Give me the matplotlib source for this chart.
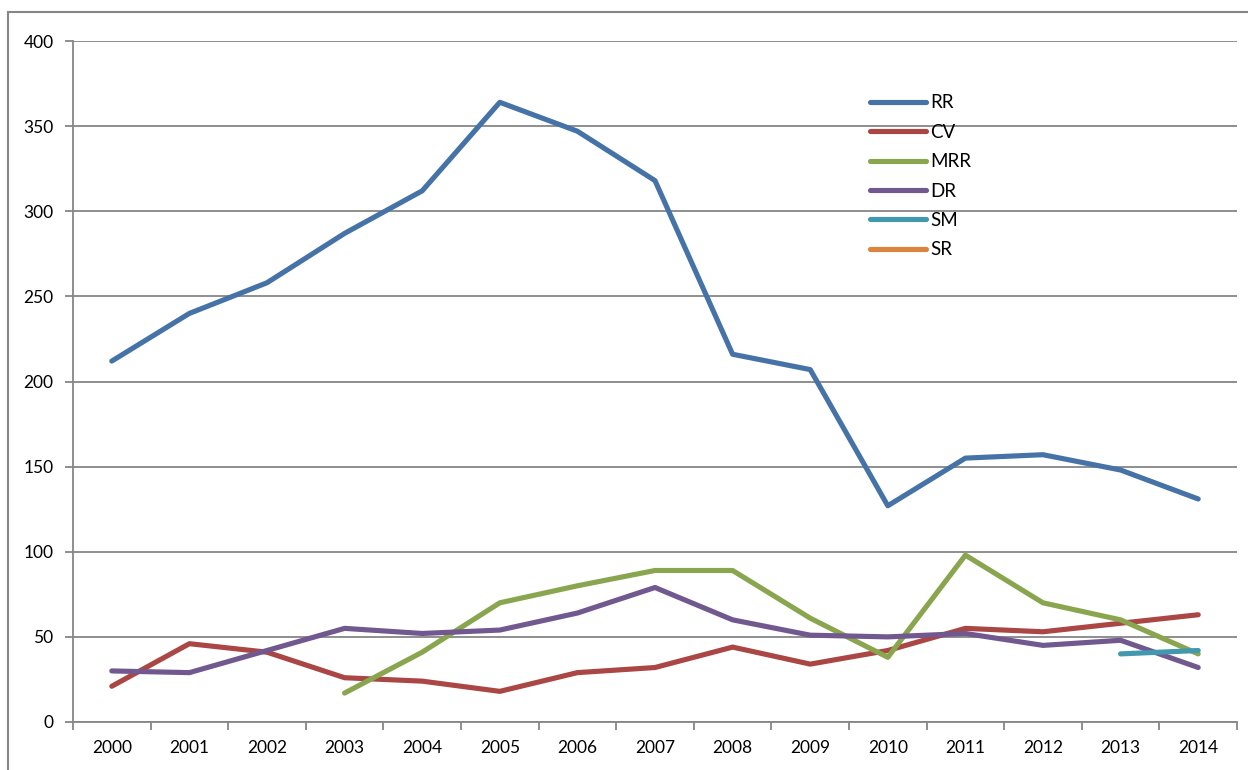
import matplotlib
matplotlib.use("Agg")
import matplotlib.pyplot as plt
from matplotlib.patches import Rectangle

years = list(range(2000, 2015))
rr = [212, 240, 258, 287, 312, 364, 347, 318, 216, 207, 127, 155, 157, 148, 131]
cv = [21, 46, 41, 26, 24, 18, 29, 32, 44, 34, 42, 55, 53, 58, 63]
mrr = [None, None, None, 17, 41, 70, 80, 89, 89, 61, 38, 98, 70, 60, 40]
dr = [30, 29, 42, 55, 52, 54, 64, 79, 60, 51, 50, 52, 45, 48, 32]
sm = [None] * 13 + [40, 42]
sr = [None] * 15

series = [("RR", rr, "#4572A7"), ("CV", cv, "#AA4643"), ("MRR", mrr, "#89A54E"),
          ("DR", dr, "#71588F"), ("SM", sm, "#4198AF"), ("SR", sr, "#DB843D")]

plt.rcParams['font.family'] = ['Lato', 'DejaVu Sans']
grid_col = "#868686"

fig = plt.figure(figsize=(12.48, 7.70), dpi=100)
ax = fig.add_axes([73 / 1248, 48 / 770, (1237 - 73) / 1248, (722 - 41) / 770])

x = list(range(len(years)))
for name, vals, col in series:
    xs = [i for i, v in zip(x, vals) if v is not None]
    ys = [v for v in vals if v is not None]
    ax.plot(xs, ys, color=col, lw=3.7, solid_capstyle="round",
            solid_joinstyle="round", label=name)

ax.set_xlim(-0.5, len(years) - 0.5)
ax.set_ylim(0, 400)
ax.set_yticks(range(0, 401, 50))
ax.yaxis.grid(True, color=grid_col, lw=1.3)
ax.set_axisbelow(True)

ax.set_xticks(x)
ax.set_xticklabels([str(y) for y in years])
ax.set_xticks([i - 0.5 for i in range(len(years) + 1)], minor=True)
ax.tick_params(axis="x", which="major", length=0, pad=13, labelsize=12.5)
ax.tick_params(axis="x", which="minor", length=6, width=1.3, color=grid_col)
ax.tick_params(axis="y", length=6, width=1.3, color=grid_col, pad=8, labelsize=12.5)

for s in ["top", "right"]:
    ax.spines[s].set_visible(False)
for s in ["left", "bottom"]:
    ax.spines[s].set_color(grid_col)
    ax.spines[s].set_linewidth(1.3)

leg = ax.legend(loc="upper left", bbox_to_anchor=(862 / 1248, (770 - 87) / 770),
                bbox_transform=fig.transFigure, frameon=False, fontsize=13.5,
                handlelength=3.0, handletextpad=0.25, labelspacing=0.66,
                borderaxespad=0)

fig.patches.append(Rectangle((8 / 1248, -0.1), 1.2, (770 - 12) / 770 + 0.1,
                             transform=fig.transFigure, fill=False,
                             edgecolor=grid_col, lw=1.5))

fig.savefig("out.png", dpi=100)
